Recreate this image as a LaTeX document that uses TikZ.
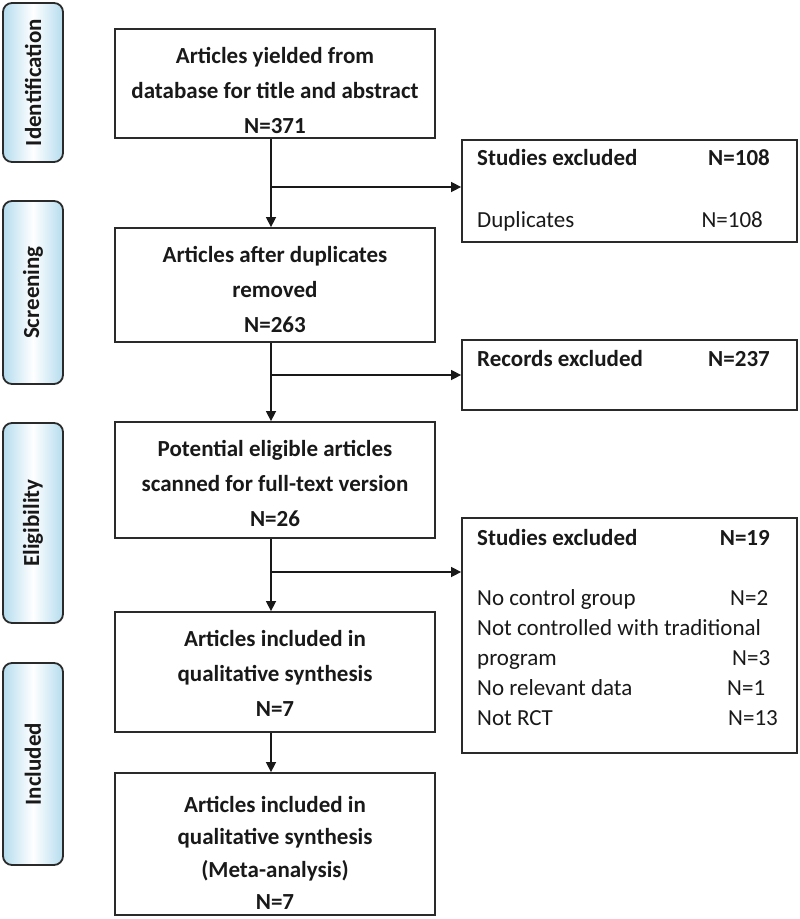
\documentclass[tikz,border=0pt]{standalone}
\usepackage{fontspec}
\setmainfont{Carlito}
\usetikzlibrary{arrows.meta,positioning}
\definecolor{pillblue}{RGB}{180,220,238}
\definecolor{edgegray}{RGB}{42,42,42}
\definecolor{inkblack}{RGB}{25,25,25}
\tikzset{
  stagebox/.style={draw=edgegray, line width=1.8pt, rounded corners=9pt,
    left color=pillblue, right color=pillblue, middle color=white,
    minimum width=60pt, inner sep=0pt},
  stagetext/.style={rotate=90, text=inkblack, font=\fontsize{23}{27}\selectfont\bfseries},
  mainbox/.style={draw=edgegray, line width=1.8pt, minimum width=320pt, inner sep=0pt},
  maintext/.style={align=center, text=inkblack, font=\fontsize{23}{35}\selectfont\bfseries},
  exbox/.style={draw=edgegray, line width=1.8pt, minimum width=335pt, inner sep=0pt},
  extext/.style={anchor=mid west, inner sep=0pt, text=inkblack, font=\fontsize{23}{27}\selectfont},
  exhead/.style={extext, font=\fontsize{23}{27}\selectfont\bfseries},
  flow/.style={draw=inkblack, line width=1.5pt, -{Triangle[length=10pt,width=10pt]}}
}
\begin{document}
\begin{tikzpicture}[x=1pt,y=-1pt]
  \useasboundingbox[fill=white] (0,0) rectangle (800,919);

  % stages on the left
  \node[stagebox, minimum height=159pt] (stid) at (33,82.5) {};
  \node[stagetext] (stidt) at (stid) {Identification};
  \node[stagebox, minimum height=183pt] (stsc) at (33,292.5) {};
  \node[stagetext] (stsct) at (stsc) {Screening};
  \node[stagebox, minimum height=200pt] (stel) at (33,523) {};
  \node[stagetext] (stelt) at (stel) {Eligibility};
  \node[stagebox, minimum height=202pt] (stin) at (33,764) {};
  \node[stagetext] (stint) at (stin) {Included};

  % main column
  \node[mainbox, minimum height=109pt] (yield) at (275,83.5) {};
  \node[maintext] (yieldt) at (275,90) {Articles yielded from\\database for title and abstract\\N=371};
  \node[mainbox, minimum height=114pt] (dedup) at (275,285) {};
  \node[maintext] (dedupt) at (275,289) {Articles after duplicates\\removed\\N=263};
  \node[mainbox, minimum height=116pt] (elig) at (275,480) {};
  \node[maintext] (eligt) at (275,483) {Potential eligible articles\\scanned for full-text version\\N=26};
  \node[mainbox, minimum height=120pt] (qual) at (275,672) {};
  \node[maintext] (qualt) at (275,673) {Articles included in\\qualitative synthesis\\N=7};
  \node[mainbox, minimum height=142pt] (meta) at (275,844) {};
  \node[maintext, font=\fontsize{23}{32.5}\selectfont\bfseries] (metat) at (275,853) {Articles included in\\qualitative synthesis\\(Meta-analysis)\\N=7};

  % exclusion boxes
  \node[exbox, minimum height=102pt] (ex1) at (629.5,191) {};
  \node[exhead] (ex1a) at (477,163) {Studies excluded};
  \node[exhead, anchor=mid east] (ex1b) at (770,163) {N=108};
  \node[extext] (ex1c) at (477,225) {Duplicates};
  \node[extext, anchor=mid east] (ex1d) at (763,225) {N=108};

  \node[exbox, minimum height=70pt] (ex2) at (629.5,375) {};
  \node[exhead] (ex2a) at (477,364) {Records excluded};
  \node[exhead, anchor=mid east] (ex2b) at (770,364) {N=237};

  \node[exbox, minimum height=235pt] (ex3) at (629.5,635.5) {};
  \node[exhead] (ex3a) at (477,543) {Studies excluded};
  \node[exhead, anchor=mid east] (ex3b) at (770,543) {N=19};
  \node[extext] (ex3c) at (477,603) {No control group};
  \node[extext] (ex3d) at (730,603) {N=2};
  \node[extext] (ex3e) at (477,633) {Not controlled with traditional};
  \node[extext] (ex3f) at (477,663) {program};
  \node[extext] (ex3g) at (732,663) {N=3};
  \node[extext] (ex3h) at (477,693) {No relevant data};
  \node[extext] (ex3i) at (727,693) {N=1};
  \node[extext] (ex3j) at (477,723) {Not RCT};
  \node[extext] (ex3k) at (728,723) {N=13};

  % connectors
  \draw[flow] ([xshift=-4pt]yield.south) -- ([xshift=-4pt]dedup.north);
  \draw[flow] ([xshift=-4pt]dedup.south) -- ([xshift=-4pt]elig.north);
  \draw[flow] ([xshift=-4pt]elig.south) -- ([xshift=-4pt]qual.north);
  \draw[flow] ([xshift=-4pt]qual.south) -- ([xshift=-4pt]meta.north);
  \coordinate (j1) at (271,187);
  \coordinate (j2) at (271,375);
  \coordinate (j3) at (271,572);
  \draw[flow] (j1) -- (j1 -| ex1.west);
  \draw[flow] (j2) -- (j2 -| ex2.west);
  \draw[flow] (j3) -- (j3 -| ex3.west);
\end{tikzpicture}
\end{document}
